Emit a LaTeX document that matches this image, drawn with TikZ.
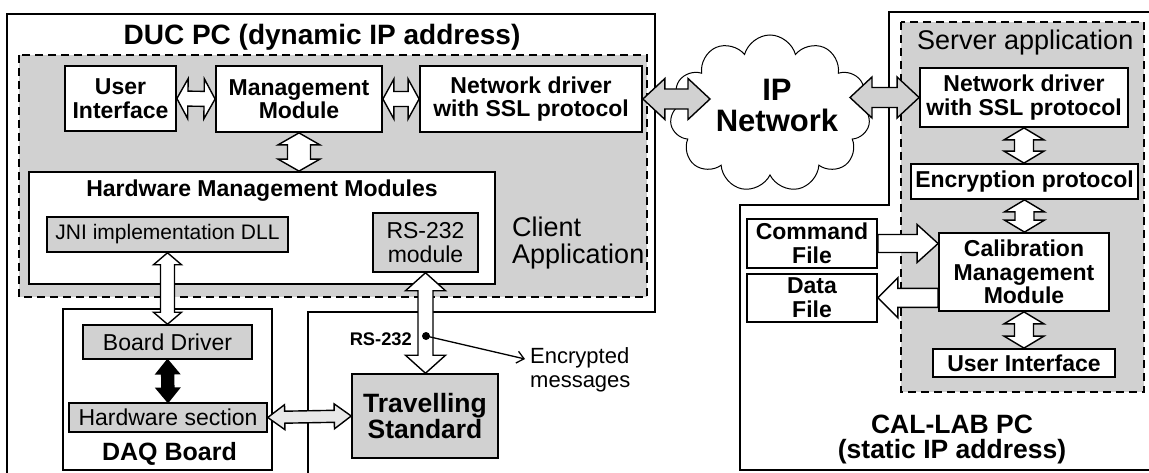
\documentclass[tikz,border=0pt]{standalone}
\usepackage{fontspec}
\setmainfont{Liberation Sans}
\usepackage{xcolor}
\usetikzlibrary{positioning,calc,shapes.symbols,arrows.meta}

\definecolor{stipple}{gray}{0.82}
\definecolor{stipplelight}{gray}{0.91}

\tikzset{
	boxsize/.style 2 args={minimum width=#1pt, minimum height=#2pt},
	pcline/.style={line width=2.4pt, line join=miter},
	appbox/.style={draw, line width=1.8pt, dash pattern=on 8pt off 5pt, fill=stipple},
	modbox/.style={draw, line width=1.8pt, fill=white, inner sep=0pt, align=center,
		font=\fontsize{23}{23.5}\selectfont\bfseries},
	hwbox/.style={draw, line width=1.5pt, fill=stipple, inner sep=0pt, align=center,
		font=\fontsize{23}{23.5}\selectfont},
	blockarrow/.style={line width=1.4pt, line join=miter},
}

% hollow double arrow: [fill]{from}{to}{head length}{head half width}{shaft half width}
\newcommand{\dblarrow}[6][white]{%
	\path (#2) coordinate (pa) (#3) coordinate (pb);
	\path ($(pa)!#4!(pb)$) coordinate (ha) ($(pb)!#4!(pa)$) coordinate (hb);
	\draw[blockarrow, fill=#1] (pa) -- ($(ha)!#5!90:(pb)$) -- ($(ha)!#6!90:(pb)$)
		-- ($(hb)!#6!-90:(pa)$) -- ($(hb)!#5!-90:(pa)$) -- (pb)
		-- ($(hb)!#5!90:(pa)$) -- ($(hb)!#6!90:(pa)$)
		-- ($(ha)!#6!-90:(pb)$) -- ($(ha)!#5!-90:(pb)$) -- cycle;
}
% hollow single arrow: [fill]{from}{tip}{head length}{head half width}{shaft half width}
\newcommand{\sglarrow}[6][white]{%
	\path (#2) coordinate (pa) (#3) coordinate (pb);
	\path ($(pb)!#4!(pa)$) coordinate (hb);
	\draw[blockarrow, fill=#1] ($(pa)!#6!90:(pb)$) -- ($(hb)!#6!-90:(pa)$)
		-- ($(hb)!#5!-90:(pa)$) -- (pb) -- ($(hb)!#5!90:(pa)$)
		-- ($(hb)!#6!90:(pa)$) -- ($(pa)!#6!-90:(pb)$) -- cycle;
}

\begin{document}
\begin{tikzpicture}[x=1pt,y=-1pt]
	\useasboundingbox (0,0) rectangle (1149,473);
	\clip (0,0) rectangle (1149,473);

	% DUC PC
	\draw[pcline] (7,480) -- (7,14) -- (655,14) -- (655,312) -- (308,312) -- (308,480);
	\node[font=\fontsize{28}{28}\selectfont\bfseries, inner sep=0pt, anchor=base] (ductitle) at (322,45) {DUC PC (dynamic IP address)};

	\draw[appbox] (19,55) rectangle (647,297);
	\node[font=\fontsize{27}{27}\selectfont, align=left, inner sep=0pt, anchor=north west] (clientlbl) at (512,217) {Client\\Application};

	\node[modbox, boxsize={111}{65}] (ui) at (120.5,98.5) {User\\Interface};
	\node[modbox, boxsize={166}{66}] (mm) at (299,99) {Management\\Module};
	\node[modbox, boxsize={222}{66}] (nd) at (531,99) {Network driver\\with SSL protocol};

	\node[draw, line width=1.8pt, fill=white, boxsize={466}{112}] (hmm) at (262,228) {};
	\node[font=\fontsize{23}{23}\selectfont\bfseries, inner sep=0pt, anchor=base] (hmmlbl) at (262,197) {Hardware Management Modules};
	\node[hwbox, font=\fontsize{21}{21}\selectfont, boxsize={241}{35}] (jni) at (167.5,234.5) {JNI implementation DLL};
	\node[hwbox, boxsize={105}{59}] (rs) at (425.5,242.5) {RS-232\\module};

	% DAQ board
	\node[draw, line width=1.8pt, fill=white, boxsize={209}{161}] (daq) at (167.5,389.5) {};
	\node[hwbox, boxsize={169}{34}] (bd) at (167.5,342) {Board Driver};
	\node[hwbox, boxsize={198}{29}] (hs) at (168,417.5) {Hardware section};
	\node[font=\fontsize{25}{25}\selectfont\bfseries, inner sep=0pt, anchor=base] (daqlbl) at (169.5,460) {DAQ Board};

	\node[hwbox, font=\fontsize{26.5}{26}\selectfont\bfseries, boxsize={146}{84}] (ts) at (425,416) {Travelling\\Standard};

	% serial link
	\node[font=\fontsize{18.3}{18}\selectfont\bfseries, inner sep=0pt, anchor=base east] (rslbl) at (412,345) {RS-232};
	\coordinate (tap) at (426,336);
	\node[font=\fontsize{22}{24}\selectfont, align=left, inner sep=0pt, anchor=north west] (encmsg) at (530,347) {Encrypted\\messages};
	\coordinate (encpt) at (525,359);

	% IP network
	\node[cloud, draw, line width=1pt, cloud puffs=11, aspect=1.3, minimum width=200pt, minimum height=157pt, inner sep=0pt] (net) at (770,113.5) {};
	\node[font=\fontsize{31}{31}\selectfont\bfseries, align=center, inner sep=0pt] (netlbl) at (777,105.5) {IP\\Network};
	\coordinate (netL) at (710,99);
	\coordinate (netR) at (850,97.5);

	% CAL-LAB PC
	\draw[pcline] (1160,12) -- (889,12) -- (889,205) -- (740,205) -- (740,470) -- (1160,470);
	\draw[appbox] (901,22) rectangle (1144,392);
	\node[font=\fontsize{27}{27}\selectfont, inner sep=0pt, anchor=base west] (srvlbl) at (917,50) {Server application};

	\node[modbox, boxsize={208}{59}] (snd) at (1024,97.5) {Network driver\\with SSL protocol};
	\node[modbox, boxsize={227}{35}] (enc) at (1024.5,181.5) {Encryption protocol};
	\node[modbox, boxsize={170}{78}] (cmm) at (1024,272) {Calibration\\Management\\Module};
	\node[modbox, boxsize={182}{28}] (sui) at (1024,363) {User Interface};
	\node[modbox, boxsize={130}{49}] (cf) at (812,243.5) {Command\\File};
	\node[modbox, boxsize={130}{48}, below=4pt of cf] (df) {Data\\File};
	\node[font=\fontsize{26.5}{25}\selectfont\bfseries, align=center, inner sep=0pt] (callab) at (952,439) {CAL-LAB PC\\(static IP address)};

	% block arrows
	\dblarrow{ui.east}{mm.west}{11pt}{20pt}{7.5pt}
	\dblarrow{mm.east}{nd.west}{11pt}{20pt}{7.5pt}
	\dblarrow{mm.south}{mm.south |- hmm.north}{12pt}{21pt}{11.5pt}
	\dblarrow{jni.south}{bd.north}{12pt}{14pt}{7pt}
	\dblarrow[black]{bd.south}{hs.north}{14pt}{11.5pt}{6pt}
	\dblarrow[stipplelight]{hs.east}{ts.west}{17pt}{12.5pt}{6pt}
	\dblarrow{rs.south}{rs.south |- ts.north}{18pt}{20pt}{7.5pt}
	\dblarrow[stipple]{nd.east}{netL}{22pt}{20.5pt}{10pt}
	\dblarrow[stipple]{netR}{snd.west}{22pt}{20.5pt}{10pt}
	\dblarrow{snd.south}{snd.south |- enc.north}{12pt}{20pt}{9.5pt}
	\dblarrow{enc.south}{enc.south |- cmm.north}{12pt}{20pt}{9.5pt}
	\dblarrow{cmm.south}{cmm.south |- sui.north}{12pt}{20pt}{9.5pt}
	\sglarrow{cf.east}{cf.east -| cmm.west}{21pt}{19pt}{9pt}
	\sglarrow{df.east -| cmm.west}{df.east}{20pt}{20pt}{9.5pt}

	% encrypted messages pointer
	\fill (tap) circle[radius=4pt];
	\draw[line width=1.3pt, -{Straight Barb[length=7pt,width=12pt]}] (tap) -- (encpt);
\end{tikzpicture}
\end{document}
